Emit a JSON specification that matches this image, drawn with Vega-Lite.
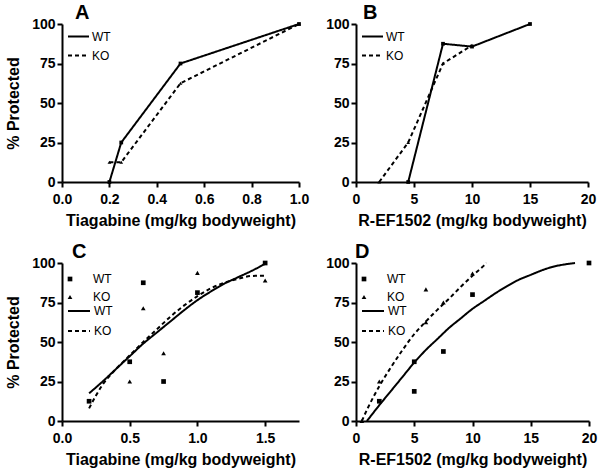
{
  "$schema": "https://vega.github.io/schema/vega-lite/v6.json",
  "padding": {"left": 5, "top": 3, "right": 5, "bottom": 3},
  "spacing": 14,
  "resolve": {"scale": {"shape": "independent", "strokeDash": "independent", "x": "independent", "y": "independent"}, "legend": {"shape": "independent", "strokeDash": "independent"}},
  "datasets": {
    "A": [
      {"dose": 0.2, "pct": 0, "group": "WT"},
      {"dose": 0.25, "pct": 25, "group": "WT"},
      {"dose": 0.5, "pct": 75, "group": "WT"},
      {"dose": 1.0, "pct": 100, "group": "WT"},
      {"dose": 0.2, "pct": 12.5, "group": "KO"},
      {"dose": 0.25, "pct": 12.5, "group": "KO"},
      {"dose": 0.5, "pct": 62.5, "group": "KO"},
      {"dose": 1.0, "pct": 100, "group": "KO"}
    ],
    "B": [
      {"dose": 4.5, "pct": 0, "group": "WT"},
      {"dose": 7.5, "pct": 87.5, "group": "WT"},
      {"dose": 10, "pct": 85.7, "group": "WT"},
      {"dose": 15, "pct": 100, "group": "WT"},
      {"dose": 2, "pct": 0, "group": "KO"},
      {"dose": 4.5, "pct": 25, "group": "KO"},
      {"dose": 7.5, "pct": 75, "group": "KO"},
      {"dose": 10, "pct": 86.5, "group": "KO"}
    ],
    "Cpts": [
      {"dose": 0.2, "pct": 12.5, "key": "WT data"},
      {"dose": 0.5, "pct": 37.5, "key": "WT data"},
      {"dose": 0.6, "pct": 87.5, "key": "WT data"},
      {"dose": 0.75, "pct": 25, "key": "WT data"},
      {"dose": 1.0, "pct": 81.25, "key": "WT data"},
      {"dose": 1.5, "pct": 100, "key": "WT data"},
      {"dose": 0.5, "pct": 25, "key": "KO data"},
      {"dose": 0.6, "pct": 71.4, "key": "KO data"},
      {"dose": 0.75, "pct": 42.9, "key": "KO data"},
      {"dose": 1.0, "pct": 93.75, "key": "KO data"},
      {"dose": 1.5, "pct": 88.9, "key": "KO data"}
    ],
    "Cfit": [
      {"dose": 0.2, "pct": 17.5, "key": "WT fit"},
      {"dose": 0.3, "pct": 25, "key": "WT fit"},
      {"dose": 0.4, "pct": 33, "key": "WT fit"},
      {"dose": 0.5, "pct": 41, "key": "WT fit"},
      {"dose": 0.6, "pct": 49, "key": "WT fit"},
      {"dose": 0.7, "pct": 56, "key": "WT fit"},
      {"dose": 0.8, "pct": 63, "key": "WT fit"},
      {"dose": 0.9, "pct": 70, "key": "WT fit"},
      {"dose": 1.0, "pct": 76.5, "key": "WT fit"},
      {"dose": 1.1, "pct": 82, "key": "WT fit"},
      {"dose": 1.2, "pct": 87, "key": "WT fit"},
      {"dose": 1.3, "pct": 91, "key": "WT fit"},
      {"dose": 1.4, "pct": 95, "key": "WT fit"},
      {"dose": 1.5, "pct": 99.5, "key": "WT fit"},
      {"dose": 0.2, "pct": 8, "key": "KO fit"},
      {"dose": 0.25, "pct": 16, "key": "KO fit"},
      {"dose": 0.3, "pct": 23, "key": "KO fit"},
      {"dose": 0.4, "pct": 33, "key": "KO fit"},
      {"dose": 0.5, "pct": 41.5, "key": "KO fit"},
      {"dose": 0.6, "pct": 50, "key": "KO fit"},
      {"dose": 0.7, "pct": 58, "key": "KO fit"},
      {"dose": 0.8, "pct": 66, "key": "KO fit"},
      {"dose": 0.9, "pct": 73, "key": "KO fit"},
      {"dose": 1.0, "pct": 79, "key": "KO fit"},
      {"dose": 1.1, "pct": 84, "key": "KO fit"},
      {"dose": 1.2, "pct": 87.5, "key": "KO fit"},
      {"dose": 1.3, "pct": 90, "key": "KO fit"},
      {"dose": 1.4, "pct": 91.8, "key": "KO fit"},
      {"dose": 1.5, "pct": 92, "key": "KO fit"}
    ],
    "Dpts": [
      {"dose": 2, "pct": 12.5, "key": "WT data"},
      {"dose": 5, "pct": 18.75, "key": "WT data"},
      {"dose": 5, "pct": 37.5, "key": "WT data"},
      {"dose": 7.5, "pct": 44, "key": "WT data"},
      {"dose": 10, "pct": 80, "key": "WT data"},
      {"dose": 20, "pct": 100, "key": "WT data"},
      {"dose": 0.5, "pct": 0, "key": "KO data"},
      {"dose": 2, "pct": 25, "key": "KO data"},
      {"dose": 6, "pct": 62.5, "key": "KO data"},
      {"dose": 6, "pct": 83.3, "key": "KO data"},
      {"dose": 7.5, "pct": 75, "key": "KO data"},
      {"dose": 10, "pct": 93.3, "key": "KO data"}
    ],
    "Dfit": [
      {"dose": 0.94, "pct": 0, "key": "WT fit"},
      {"dose": 2, "pct": 10, "key": "WT fit"},
      {"dose": 3, "pct": 19, "key": "WT fit"},
      {"dose": 4, "pct": 28, "key": "WT fit"},
      {"dose": 5, "pct": 37, "key": "WT fit"},
      {"dose": 6, "pct": 45, "key": "WT fit"},
      {"dose": 7, "pct": 52, "key": "WT fit"},
      {"dose": 8, "pct": 59, "key": "WT fit"},
      {"dose": 9, "pct": 65, "key": "WT fit"},
      {"dose": 10, "pct": 71, "key": "WT fit"},
      {"dose": 11, "pct": 76, "key": "WT fit"},
      {"dose": 12, "pct": 81, "key": "WT fit"},
      {"dose": 13, "pct": 85.5, "key": "WT fit"},
      {"dose": 14, "pct": 89.5, "key": "WT fit"},
      {"dose": 15, "pct": 92.5, "key": "WT fit"},
      {"dose": 16, "pct": 95.5, "key": "WT fit"},
      {"dose": 17, "pct": 97.8, "key": "WT fit"},
      {"dose": 18, "pct": 99.2, "key": "WT fit"},
      {"dose": 18.8, "pct": 100, "key": "WT fit"},
      {"dose": 0.5, "pct": 0, "key": "KO fit"},
      {"dose": 1, "pct": 8, "key": "KO fit"},
      {"dose": 2, "pct": 22, "key": "KO fit"},
      {"dose": 3, "pct": 34, "key": "KO fit"},
      {"dose": 4, "pct": 45, "key": "KO fit"},
      {"dose": 5, "pct": 55, "key": "KO fit"},
      {"dose": 6, "pct": 63, "key": "KO fit"},
      {"dose": 7, "pct": 70.5, "key": "KO fit"},
      {"dose": 8, "pct": 77.5, "key": "KO fit"},
      {"dose": 9, "pct": 85, "key": "KO fit"},
      {"dose": 10, "pct": 92, "key": "KO fit"},
      {"dose": 11, "pct": 98.5, "key": "KO fit"},
      {"dose": 11.2, "pct": 100, "key": "KO fit"}
    ]
  },
  "vconcat": [
    {
      "hconcat": [
        {
          "width": 237, "height": 158,
          "title": {"text": "A", "dx": 13, "offset": -6, "frame": "group"},
          "data": {"name": "A"},
          "encoding": {
            "x": {"field": "dose", "type": "quantitative", "scale": {"domain": [0, 1]}, "axis": {"values": [0, 0.2, 0.4, 0.6, 0.8, 1.0], "format": ".1f", "title": "Tiagabine (mg/kg bodyweight)"}},
            "y": {"field": "pct", "type": "quantitative", "scale": {"domain": [0, 100]}, "axis": {"values": [0, 25, 50, 75, 100], "title": "% Protected"}}
          },
          "layer": [
            {"mark": {"type": "line", "strokeWidth": 2, "color": "black"},
             "encoding": {"strokeDash": {"field": "group", "type": "nominal", "scale": {"domain": ["WT", "KO"], "range": [[1, 0], [4, 3]]},
               "legend": {"title": null, "orient": "none", "legendX": 5, "legendY": 1, "padding": 0, "symbolType": "stroke", "symbolSize": 441, "symbolStrokeWidth": 2, "symbolStrokeColor": "black", "labelOffset": 2, "labelFontSize": 12, "labelColor": "black", "rowPadding": 1}}}},
            {"mark": {"type": "point", "filled": true, "color": "black", "size": 14, "opacity": 1},
             "encoding": {"shape": {"field": "group", "type": "nominal", "scale": {"domain": ["KO", "WT"], "range": ["triangle-up", "square"]}, "legend": null}}}
          ]
        },
        {
          "width": 232, "height": 158,
          "title": {"text": "B", "dx": 7, "offset": -6, "frame": "group"},
          "data": {"name": "B"},
          "encoding": {
            "x": {"field": "dose", "type": "quantitative", "scale": {"domain": [0, 20]}, "axis": {"values": [0, 5, 10, 15, 20], "title": "R-EF1502 (mg/kg bodyweight)"}},
            "y": {"field": "pct", "type": "quantitative", "scale": {"domain": [0, 100]}, "axis": {"values": [0, 25, 50, 75, 100], "title": null}}
          },
          "layer": [
            {"mark": {"type": "line", "strokeWidth": 2, "color": "black"},
             "encoding": {"strokeDash": {"field": "group", "type": "nominal", "scale": {"domain": ["WT", "KO"], "range": [[1, 0], [4, 3]]},
               "legend": {"title": null, "orient": "none", "legendX": 5, "legendY": 1, "padding": 0, "symbolType": "stroke", "symbolSize": 441, "symbolStrokeWidth": 2, "symbolStrokeColor": "black", "labelOffset": 2, "labelFontSize": 12, "labelColor": "black", "rowPadding": 1}}}},
            {"mark": {"type": "point", "filled": true, "color": "black", "size": 14, "opacity": 1},
             "encoding": {"shape": {"field": "group", "type": "nominal", "scale": {"domain": ["KO", "WT"], "range": ["triangle-up", "square"]}, "legend": null}}}
          ]
        }
      ],
      "bounds": "flush",
      "spacing": 57,
      "resolve": {"scale": {"shape": "independent", "strokeDash": "independent", "x": "independent", "y": "independent"}, "legend": {"shape": "independent", "strokeDash": "independent"}}
    },
    {
      "hconcat": [
        {
          "width": 237, "height": 158,
          "title": {"text": "C", "dx": 10, "offset": -6, "frame": "group"},
          "encoding": {
            "x": {"field": "dose", "type": "quantitative", "scale": {"domain": [0, 1.75]}, "axis": {"values": [0, 0.5, 1.0, 1.5], "format": ".1f", "title": "Tiagabine (mg/kg bodyweight)"}},
            "y": {"field": "pct", "type": "quantitative", "scale": {"domain": [0, 100]}, "axis": {"values": [0, 25, 50, 75, 100], "title": "% Protected"}}
          },
          "layer": [
            {"data": {"name": "Cfit"},
             "mark": {"type": "line", "strokeWidth": 2, "color": "black", "interpolate": "monotone"},
             "encoding": {"strokeDash": {"field": "key", "type": "nominal", "scale": {"domain": ["WT fit", "KO fit"], "range": [[1, 0], [4, 3]]},
               "legend": {"title": null, "orient": "none", "legendX": 5, "legendY": 36, "padding": 0, "symbolType": "stroke", "symbolSize": 484, "symbolStrokeWidth": 2, "symbolStrokeColor": "black", "labelOffset": 3, "labelFontSize": 12, "labelColor": "black", "rowPadding": 2, "labelExpr": "split(datum.label, ' ')[0]"}}}},
            {"data": {"name": "Cpts"},
             "mark": {"type": "point", "filled": true, "color": "black", "size": 22, "opacity": 1},
             "encoding": {"shape": {"field": "key", "type": "nominal", "scale": {"domain": ["WT data", "KO data"], "range": ["square", "triangle-up"]},
               "legend": {"title": null, "orient": "none", "legendX": 2, "legendY": 10, "padding": 0, "symbolSize": 22, "symbolStrokeWidth": 0, "symbolFillColor": "black", "labelOffset": 17, "labelFontSize": 12, "labelColor": "black", "rowPadding": 6, "labelExpr": "split(datum.label, ' ')[0]"}}}}
          ]
        },
        {
          "width": 233, "height": 158,
          "title": {"text": "D", "dx": -1, "offset": -6, "frame": "group"},
          "encoding": {
            "x": {"field": "dose", "type": "quantitative", "scale": {"domain": [0, 20]}, "axis": {"values": [0, 5, 10, 15, 20], "title": "R-EF1502 (mg/kg bodyweight)"}},
            "y": {"field": "pct", "type": "quantitative", "scale": {"domain": [0, 100]}, "axis": {"values": [0, 25, 50, 75, 100], "title": null}}
          },
          "layer": [
            {"data": {"name": "Dfit"},
             "mark": {"type": "line", "strokeWidth": 2, "color": "black", "interpolate": "monotone"},
             "encoding": {"strokeDash": {"field": "key", "type": "nominal", "scale": {"domain": ["WT fit", "KO fit"], "range": [[1, 0], [4, 3]]},
               "legend": {"title": null, "orient": "none", "legendX": 5, "legendY": 36, "padding": 0, "symbolType": "stroke", "symbolSize": 484, "symbolStrokeWidth": 2, "symbolStrokeColor": "black", "labelOffset": 3, "labelFontSize": 12, "labelColor": "black", "rowPadding": 2, "labelExpr": "split(datum.label, ' ')[0]"}}}},
            {"data": {"name": "Dpts"},
             "mark": {"type": "point", "filled": true, "color": "black", "size": 22, "opacity": 1},
             "encoding": {"shape": {"field": "key", "type": "nominal", "scale": {"domain": ["WT data", "KO data"], "range": ["square", "triangle-up"]},
               "legend": {"title": null, "orient": "none", "legendX": 2, "legendY": 10, "padding": 0, "symbolSize": 22, "symbolStrokeWidth": 0, "symbolFillColor": "black", "labelOffset": 17, "labelFontSize": 12, "labelColor": "black", "rowPadding": 6, "labelExpr": "split(datum.label, ' ')[0]"}}}}
          ]
        }
      ],
      "bounds": "flush",
      "spacing": 57,
      "resolve": {"scale": {"shape": "independent", "strokeDash": "independent", "x": "independent", "y": "independent"}, "legend": {"shape": "independent", "strokeDash": "independent"}}
    }
  ],
  "config": {
    "view": {"stroke": null},
    "font": "Liberation Sans",
    "axis": {"grid": false, "domainColor": "black", "domainWidth": 2, "tickColor": "black", "tickWidth": 2, "tickSize": 5, "labelFont": "Liberation Sans", "labelFontSize": 14, "labelFontWeight": "bold", "labelColor": "black", "labelFlush": false, "labelOverlap": false, "titleFont": "Liberation Sans", "titleFontSize": 16, "titleFontWeight": "bold", "titleColor": "black"},
    "axisX": {"labelPadding": 5, "titlePadding": 6},
    "axisY": {"labelPadding": 2, "titlePadding": 10},
    "legend": {"labelFont": "Liberation Sans"},
    "title": {"font": "Liberation Sans", "fontSize": 20, "fontWeight": "bold", "color": "black", "anchor": "start"}
  }
}
